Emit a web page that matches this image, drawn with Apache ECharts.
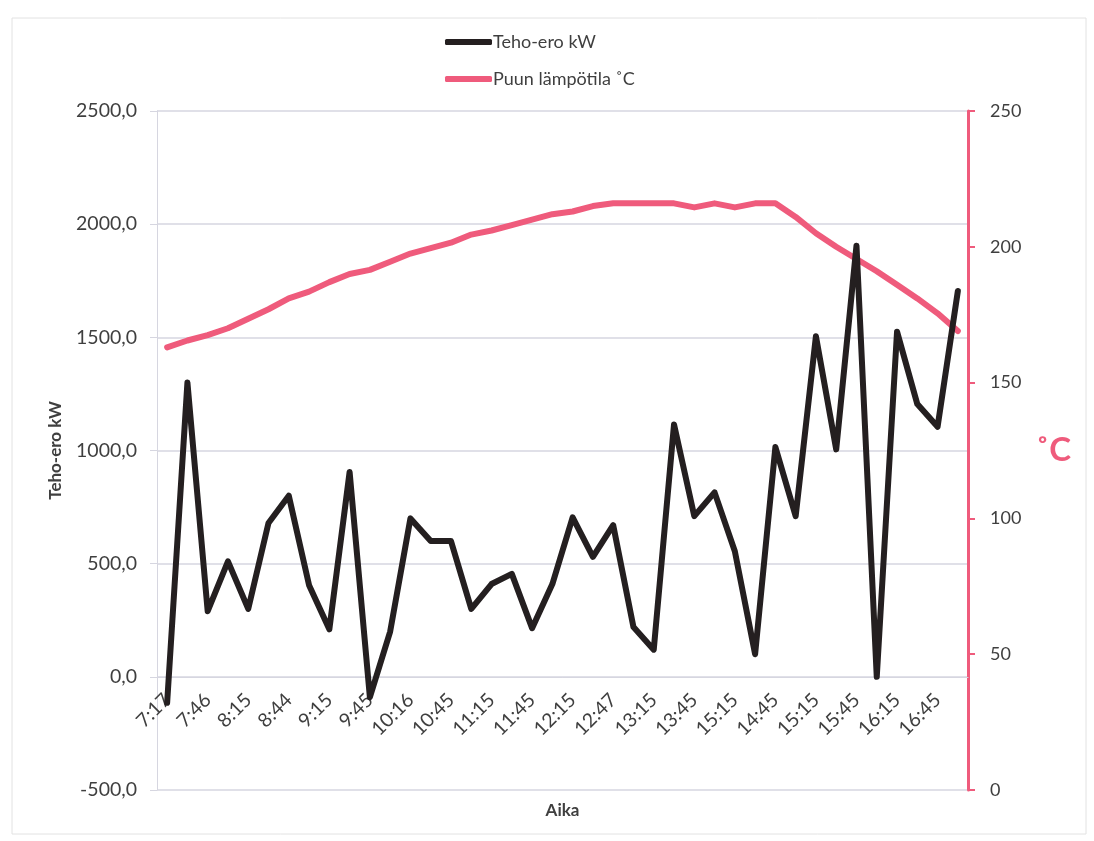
<!DOCTYPE html>
<html>
<head>
<meta charset="utf-8">
<title>Teho-ero ja puun lämpötila</title>
<script src="https://cdn.jsdelivr.net/npm/echarts@6/dist/echarts.min.js"></script>
<style>
  html, body { margin: 0; padding: 0; background: #ffffff; }
  #chart { width: 1094px; height: 841px; }
</style>
</head>
<body>
<div id="chart"></div>
<script>
// Measurement times (every other one is printed on the axis)
const times = [
  '7:17', '7:31', '7:46', '8:00', '8:15', '8:29', '8:44', '9:00', '9:15', '9:30',
  '9:45', '10:00', '10:16', '10:30', '10:45', '11:00', '11:15', '11:30', '11:45', '12:00',
  '12:15', '12:30', '12:47', '13:00', '13:15', '13:30', '13:45', '14:00', '15:15', '14:30',
  '14:45', '15:00', '15:15', '15:30', '15:45', '16:00', '16:15', '16:30', '16:45', '17:00'
];

// Power difference, kW
const tehoEro = [
  -115, 1300, 290, 510, 300, 680, 800, 405, 210, 905,
  -90, 200, 700, 600, 600, 300, 410, 455, 215, 410,
  705, 530, 670, 220, 120, 1115, 710, 815, 555, 100,
  1015, 710, 1505, 1005, 1905, 0, 1525, 1205, 1105, 1705
];

// Wood temperature, °C
const puunLampotila = [
  163, 165.5, 167.5, 170, 173.5, 177, 181, 183.5, 187, 190,
  191.5, 194.5, 197.5, 199.5, 201.5, 204.5, 206, 208, 210, 212,
  213, 215, 216, 216, 216, 216, 214.5, 216, 214.5, 216,
  216, 211, 205, 200, 195.5, 191, 186, 181, 175.5, 169
];

const seriesNames = ['Teho-ero kW', 'Puun lämpötila ˚C'];
const black = '#241f20';
const pink = '#ef5b7c';
const textGray = '#3f3f3f';
const gridGray = '#d6d6e0';
const font = 'Lato, "Open Sans", sans-serif';

// Plot box and value range of the kW axis; the time axis sits on its zero line
const plotTop = 111;
const plotBottom = 51;
const kwMin = -500;
const kwMax = 2500;
const plotHeight = 841 - plotTop - plotBottom;
const zeroLift = plotHeight * (0 - kwMin) / (kwMax - kwMin);

const chart = echarts.init(document.getElementById('chart'), null, { renderer: 'canvas' });

chart.setOption({
  backgroundColor: '#ffffff',
  animation: false,
  textStyle: { fontFamily: font },
  graphic: [{
    type: 'rect',
    shape: { x: 12, y: 18, width: 1074, height: 816 },
    style: { fill: 'none', stroke: '#e2e2e2', lineWidth: 1 },
    silent: true
  }],
  legend: {
    orient: 'vertical',
    left: 440,
    top: 28,
    itemWidth: 47,
    itemHeight: 6,
    itemGap: 19,
    icon: 'roundRect',
    textStyle: { fontFamily: font, fontSize: 18, color: textGray, padding: [0, 0, 0, -4] },
    data: seriesNames
  },
  grid: {
    left: 157, right: 126, top: plotTop, bottom: plotBottom,
    containLabel: false,
    outerBoundsMode: 'none'
  },
  xAxis: {
    type: 'category',
    data: times,
    boundaryGap: true,
    position: 'bottom',
    offset: -zeroLift,
    name: 'Aika',
    nameLocation: 'middle',
    nameGap: 125,
    nameTextStyle: { fontFamily: font, fontSize: 17, fontWeight: 'bold', color: textGray },
    axisLine: { onZero: false, lineStyle: { color: gridGray, width: 1 } },
    axisTick: { show: false },
    axisLabel: {
      interval: 1,
      rotate: 45,
      margin: 20,
      fontFamily: font,
      fontSize: 19.5,
      color: textGray
    },
    splitLine: { show: false }
  },
  yAxis: [{
    type: 'value',
    min: kwMin,
    max: kwMax,
    interval: 500,
    position: 'left',
    name: 'Teho-ero kW',
    nameLocation: 'middle',
    nameRotate: 90,
    nameGap: 93,
    nameTextStyle: { fontFamily: font, fontSize: 17, fontWeight: 'bold', color: textGray },
    axisLine: { show: true, lineStyle: { color: gridGray, width: 1 } },
    axisTick: { show: true, inside: false, length: 7, lineStyle: { color: gridGray } },
    axisLabel: {
      margin: 20,
      fontFamily: font,
      fontSize: 19.5,
      color: textGray,
      formatter: v => v.toFixed(1).replace('.', ',')
    },
    splitLine: { show: true, lineStyle: { color: gridGray, width: 1.5 } }
  }, {
    type: 'value',
    min: 0,
    max: 250,
    interval: 50,
    position: 'right',
    name: '˚C',
    nameLocation: 'middle',
    nameRotate: 0,
    nameGap: 68,
    nameTextStyle: { fontFamily: font, fontSize: 33, fontWeight: 'bold', color: pink },
    axisLine: { show: true, lineStyle: { color: pink, width: 3 } },
    axisTick: { show: true, inside: false, length: 7, lineStyle: { color: pink, width: 2 } },
    axisLabel: { margin: 22, fontFamily: font, fontSize: 18, color: textGray },
    splitLine: { show: false }
  }],
  series: [{
    name: seriesNames[0],
    type: 'line',
    yAxisIndex: 0,
    data: tehoEro,
    showSymbol: false,
    smooth: false,
    itemStyle: { color: black },
    lineStyle: { color: black, width: 6, cap: 'round', join: 'round' },
    z: 3
  }, {
    name: seriesNames[1],
    type: 'line',
    yAxisIndex: 1,
    data: puunLampotila,
    showSymbol: false,
    smooth: false,
    itemStyle: { color: pink },
    lineStyle: { color: pink, width: 6, cap: 'round', join: 'round' },
    z: 2
  }]
});
</script>
</body>
</html>
